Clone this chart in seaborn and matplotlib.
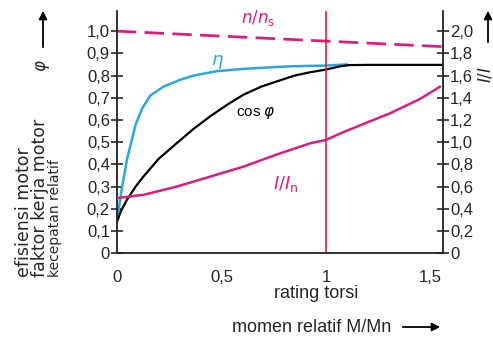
import numpy as np
import pandas as pd
import matplotlib
matplotlib.use("Agg")
import matplotlib.pyplot as plt
import seaborn as sns

### data (x = M/Mn)
n_x = [0.0, 1.0, 1.56]
n_rel = [1.0, 0.955, 0.93]

eta_x = [0.005, 0.02, 0.048, 0.09, 0.12, 0.16, 0.223, 0.3, 0.367, 0.48, 0.606, 0.75, 0.845, 1.0, 1.1]
eta = [0.17, 0.27, 0.42, 0.58, 0.65, 0.71, 0.75, 0.78, 0.80, 0.82, 0.83, 0.838, 0.842, 0.845, 0.85]

cos_x = [0.0, 0.02, 0.048, 0.09, 0.128, 0.2, 0.287, 0.367, 0.447, 0.53, 0.606, 0.69, 0.766, 0.85, 0.925, 1.0, 1.07, 1.11, 1.2, 1.56]
cos_phi = [0.14, 0.19, 0.24, 0.30, 0.346, 0.425, 0.496, 0.56, 0.617, 0.67, 0.714, 0.75, 0.774, 0.80, 0.815, 0.827, 0.842, 0.847, 0.848, 0.848]

cur_x = [0.0, 0.128, 0.287, 0.447, 0.606, 0.766, 0.925, 1.0, 1.07, 1.2, 1.306, 1.45, 1.545]
cur = [0.496, 0.526, 0.60, 0.69, 0.78, 0.89, 0.99, 1.02, 1.08, 1.18, 1.26, 1.39, 1.50]

x_ticks = [0, 0.5, 1, 1.5]
x_labels = ["0", "0,5", "1", "1,5"]
left_ticks = [0, 0.1, 0.2, 0.3, 0.4, 0.5, 0.6, 0.7, 0.8, 0.9, 1.0]
right_ticks = [0, 0.2, 0.4, 0.6, 0.8, 1.0, 1.2, 1.4, 1.6, 1.8, 2.0]

magenta = "#d81f7f"
blue = "#2aa8de"
red = "#e8202a"

sns.set_style("white")
plt.rcParams["font.family"] = ["Liberation Sans", "DejaVu Sans"]


def comma_labels(vals):
    return [("%.1f" % v).replace(".", ",") if v else "0" for v in vals]


fig = plt.figure(figsize=(4.93, 3.38), dpi=100)
ax = fig.add_axes([0.237, 0.251, 0.662, 0.716])
ax2 = ax.twinx()

sns.lineplot(x=n_x, y=n_rel, ax=ax, color=magenta, lw=2.0, linestyle=(0, (7, 3)))
sns.lineplot(x=eta_x, y=eta, ax=ax, color=blue, lw=1.8)
sns.lineplot(x=cos_x, y=cos_phi, ax=ax, color="black", lw=1.6)
sns.lineplot(x=cur_x, y=cur, ax=ax2, color=magenta, lw=1.8)
ax.axvline(1.0, color=red, lw=1.2)

ax.set_xlim(0, 1.56)
ax.set_ylim(0, 1.09)
ax2.set_ylim(0, 2.18)

ax.set_xticks(x_ticks)
ax.set_xticklabels(x_labels)
ax.set_yticks(left_ticks)
ax.set_yticklabels(comma_labels(left_ticks))
ax2.set_yticks(right_ticks)
ax2.set_yticklabels(comma_labels(right_ticks))

for a in (ax, ax2):
    a.spines["top"].set_visible(False)
    for s in a.spines.values():
        s.set_linewidth(1.3)
        s.set_color("#222222")
ax.spines["right"].set_visible(False)
ax2.spines["left"].set_visible(False)
ax2.spines["bottom"].set_visible(False)

ax.tick_params(axis="y", direction="inout", length=8, width=1.2, labelsize=12, pad=1)
ax.tick_params(axis="x", direction="inout", length=8, width=1.2, labelsize=12, pad=8)
ax2.tick_params(axis="y", direction="inout", length=8, width=1.2, labelsize=12, pad=1)
ax.set_xlabel("")
ax.set_ylabel("")
ax2.set_ylabel("")

# labels on the curves
ax.text(0.675, 1.06, r"$n/n_\mathrm{s}$", color=magenta, fontsize=12, ha="center", va="center")
ax.text(0.48, 0.86, r"$\eta$", color=blue, fontsize=13, ha="center", va="center")
ax.text(0.665, 0.63, r"cos $\varphi$", color="black", fontsize=11, ha="center", va="center")
ax.text(0.81, 0.31, r"$I/I_\mathrm{n}$", color=magenta, fontsize=13, ha="center", va="center")


def fig_arrow(x0, y0, x1, y1):
    # pixel coords from top-left of the 493x338 picture
    ax.annotate("", xy=(x1 / 493, 1 - y1 / 338), xytext=(x0 / 493, 1 - y0 / 338),
                xycoords="figure fraction", textcoords="figure fraction", annotation_clip=False,
                arrowprops=dict(arrowstyle="-|>", color="black", lw=1.3, mutation_scale=12))


# left axis title
fig.text(32 / 493, 1 - 277 / 338, "efisiensi motor\nfaktor kerja motor", rotation=90,
         fontsize=12.5, family="DejaVu Sans", linespacing=0.92, ha="center", va="bottom",
         multialignment="left")
fig.text(55 / 493, 1 - 277 / 338, "kecepatan relatif", rotation=90, fontsize=10,
         family="DejaVu Sans", ha="center", va="bottom")
fig_arrow(43, 50, 43, 8)
fig.text(43 / 493, 1 - 66 / 338, r"$\varphi$", rotation=90, fontsize=12, ha="center", va="center")

# right axis title
fig_arrow(488, 45, 488, 8)
fig.text(485 / 493, 1 - 75 / 338, r"$I/I$", rotation=90, fontsize=12, ha="center", va="center")

# bottom titles
fig.text(316 / 493, 1 - 294 / 338, "rating torsi", fontsize=13, ha="center", va="center")
fig.text(312 / 493, 1 - 327 / 338, "momen relatif M/Mn", fontsize=13, ha="center", va="center")
fig_arrow(400, 327, 443, 327)

fig.savefig("out.png", dpi=100)
